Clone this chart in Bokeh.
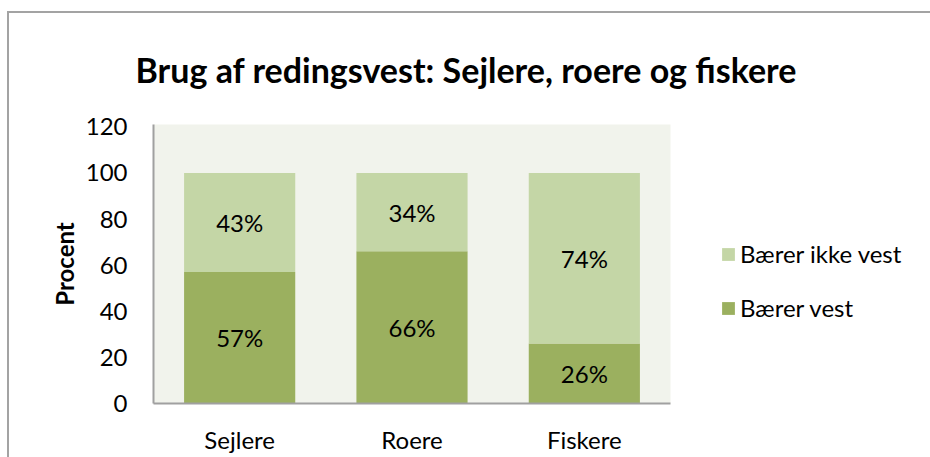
from bokeh.plotting import figure
from bokeh.models import ColumnDataSource, FixedTicker, Legend, LegendItem, Range1d
from bokeh.core.properties import value
from bokeh.embed import file_html
from bokeh.resources import INLINE

categories = ["Sejlere", "Roere", "Fiskere"]
baerer_vest = [57, 66, 26]
baerer_ikke_vest = [43, 34, 74]
y_ticks = [0, 20, 40, 60, 80, 100, 120]
title_text = "Brug af redingsvest: Sejlere, roere og fiskere"
series_names = ["Bærer vest", "Bærer ikke vest"]

FONT = "Lato"
DARK = "#9bb05f"
LIGHT = "#c4d6a6"
BG = "#f1f3ec"
FS = "24px"

src = ColumnDataSource(dict(
    cat=categories,
    vest=baerer_vest,
    ikke=baerer_ikke_vest,
    vest_mid=[v / 2 for v in baerer_vest],
    ikke_mid=[v + i / 2 for v, i in zip(baerer_vest, baerer_ikke_vest)],
    vest_lbl=[f"{v}%" for v in baerer_vest],
    ikke_lbl=[f"{i}%" for i in baerer_ikke_vest],
))

p = figure(x_range=categories, y_range=Range1d(0, 121),
           frame_width=517, frame_height=279,
           output_backend="svg", toolbar_location=None,
           min_border_left=144, min_border_right=260, min_border_top=108, min_border_bottom=57)
p.styles = {"border-top": "2px solid #a3a3a3", "border-left": "2px solid #a3a3a3",
            "margin-top": "11px", "margin-left": "7px"}

rs = p.vbar_stack(["vest", "ikke"], x="cat", width=0.645, source=src,
                  color=[DARK, LIGHT], line_color=None)

p.text(x="cat", y="vest_mid", text="vest_lbl", source=src, text_align="center",
       text_baseline="middle", text_font=value(FONT), text_font_size=FS, text_color="black")
p.text(x="cat", y="ikke_mid", text="ikke_lbl", source=src, text_align="center",
       text_baseline="middle", text_font=value(FONT), text_font_size=FS, text_color="black")

legend = Legend(items=[LegendItem(label=series_names[1], renderers=[rs[1]]),
                       LegendItem(label=series_names[0], renderers=[rs[0]])],
                location=(50, 81), margin=0, padding=0, spacing=25,
                glyph_width=16, glyph_height=16, label_height=22, label_standoff=4,
                label_text_font=FONT, label_text_font_size=FS, label_text_color="black",
                border_line_alpha=0, background_fill_alpha=0)
p.add_layout(legend, "right")

p.title.text = title_text
p.title.align = "left"
p.title.vertical_align = "middle"
p.title.offset = -18
p.title.standoff = 68
p.title.text_font = FONT
p.title.text_font_style = "bold"
p.title.text_font_size = "34px"
p.title.text_color = "black"

p.background_fill_color = BG
p.border_fill_color = "white"
p.outline_line_color = None
p.xgrid.grid_line_color = None
p.ygrid.grid_line_color = None

p.yaxis.ticker = FixedTicker(ticks=y_ticks)
for ax in (p.xaxis[0], p.yaxis[0]):
    ax.axis_line_color = "#a0a0a0"
    ax.axis_line_width = 2
    ax.major_tick_line_color = None
    ax.minor_tick_line_color = None
    ax.major_label_text_font = FONT
    ax.major_label_text_font_size = FS
    ax.major_label_text_color = "black"
p.xaxis.major_label_standoff = 15
p.yaxis.major_label_standoff = 20
p.yaxis.axis_label = "Procent"
p.yaxis.axis_label_text_font = FONT
p.yaxis.axis_label_text_font_style = "bold"
p.yaxis.axis_label_text_font_size = FS
p.yaxis.axis_label_text_color = "black"
p.yaxis.axis_label_standoff = 4

open("out.html", "w").write(file_html(p, INLINE))
